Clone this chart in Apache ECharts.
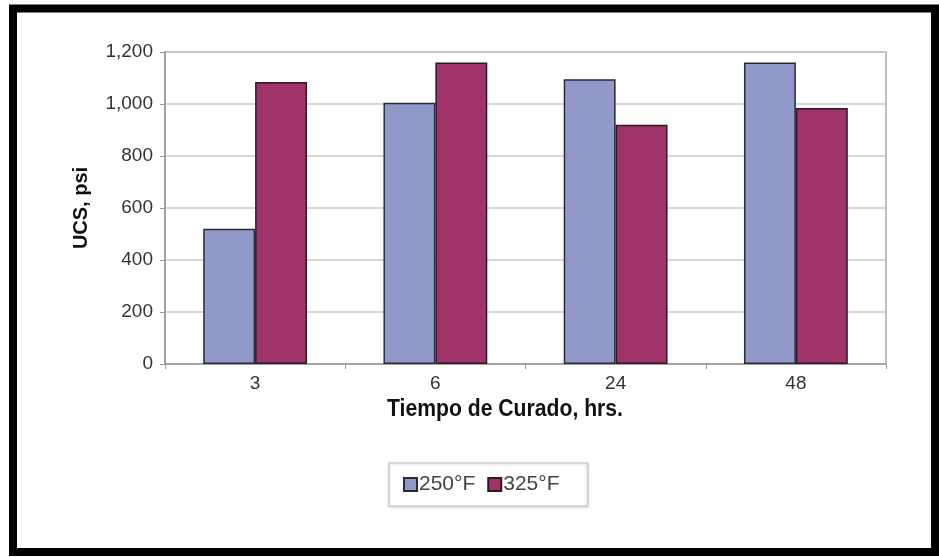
<!DOCTYPE html>
<html>
<head>
<meta charset="utf-8">
<script src="https://cdn.jsdelivr.net/npm/echarts@6/dist/echarts.min.js"></script>
<style>
html,body{margin:0;padding:0;background:#fff;}
#chart{width:939px;height:557px;}
</style>
</head>
<body>
<div id="chart"></div>
<script>
var categories = ['3', '6', '24', '48'];
var series250 = [520, 1005, 1095, 1160];
var series325 = [1085, 1160, 920, 985];
var seriesNames = ['250°F', '325°F'];
var yTicks = { min: 0, max: 1200, interval: 200 };

var chart = echarts.init(document.getElementById('chart'));
var fontFam = '"Liberation Sans", Arial, sans-serif';
chart.setOption({
  backgroundColor: '#ffffff',
  animation: false,
  grid: { left: 165, right: 53, top: 52, bottom: 193, show: true, borderColor: '#a8a8a8', borderWidth: 1.5 },
  legend: {
    data: seriesNames,
    left: 389, top: 463,
    itemWidth: 13, itemHeight: 13, itemGap: 12,
    padding: [11, 28, 11, 14],
    borderColor: '#cfcfcf', borderWidth: 1.5,
    shadowColor: 'rgba(0,0,0,0.15)', shadowBlur: 3, shadowOffsetY: 1,
    backgroundColor: '#fff',
    textStyle: { fontFamily: fontFam, fontSize: 21, color: '#444', padding: [0, 0, 0, -3] },
    icon: 'rect'
  },
  xAxis: {
    type: 'category',
    data: categories,
    axisLine: { lineStyle: { color: '#999', width: 1.5 } },
    axisTick: { show: true, length: 5, lineStyle: { color: '#999' } },
    axisLabel: { fontFamily: fontFam, fontSize: 19, color: '#333', margin: 10 }
  },
  yAxis: {
    type: 'value',
    min: yTicks.min, max: yTicks.max, interval: yTicks.interval,
    name: 'UCS, psi',
    nameLocation: 'middle',
    nameGap: 74,
    nameTextStyle: { fontFamily: fontFam, fontSize: 20, fontWeight: 'bold', color: '#111' },
    axisLine: { show: true, lineStyle: { color: '#999', width: 1.5 } },
    axisTick: { show: true, length: 5, lineStyle: { color: '#999' } },
    splitLine: { lineStyle: { color: '#c8c8c8', width: 1.5 } },
    axisLabel: {
      fontFamily: fontFam, fontSize: 19, color: '#333', margin: 12,
      formatter: function (v) { return v.toLocaleString('en-US'); }
    }
  },
  graphic: [
    {
      type: 'text',
      x: 505, y: 410,
      scaleX: 0.92,
      style: {
        text: 'Tiempo de Curado, hrs.',
        fontFamily: fontFam,
        fontSize: 23, fontWeight: 'bold', fill: '#111',
        textAlign: 'center', textVerticalAlign: 'middle'
      }
    },
    {
      type: 'rect',
      shape: { x: 13, y: 8.5, width: 922, height: 543.5 },
      style: { fill: 'none', stroke: '#000', lineWidth: 8 },
      silent: true
    }
  ],
  series: [
    {
      name: seriesNames[0], type: 'bar', data: series250,
      barWidth: '28.8%', barGap: '0%',
      itemStyle: { color: '#9199c9', borderColor: '#2a2a3a', borderWidth: 1.5 }
    },
    {
      name: seriesNames[1], type: 'bar', data: series325,
      barWidth: '28.8%', barGap: '0%',
      itemStyle: { color: '#a0336a', borderColor: '#2a1a22', borderWidth: 1.5 }
    }
  ]
});
</script>
</body>
</html>
